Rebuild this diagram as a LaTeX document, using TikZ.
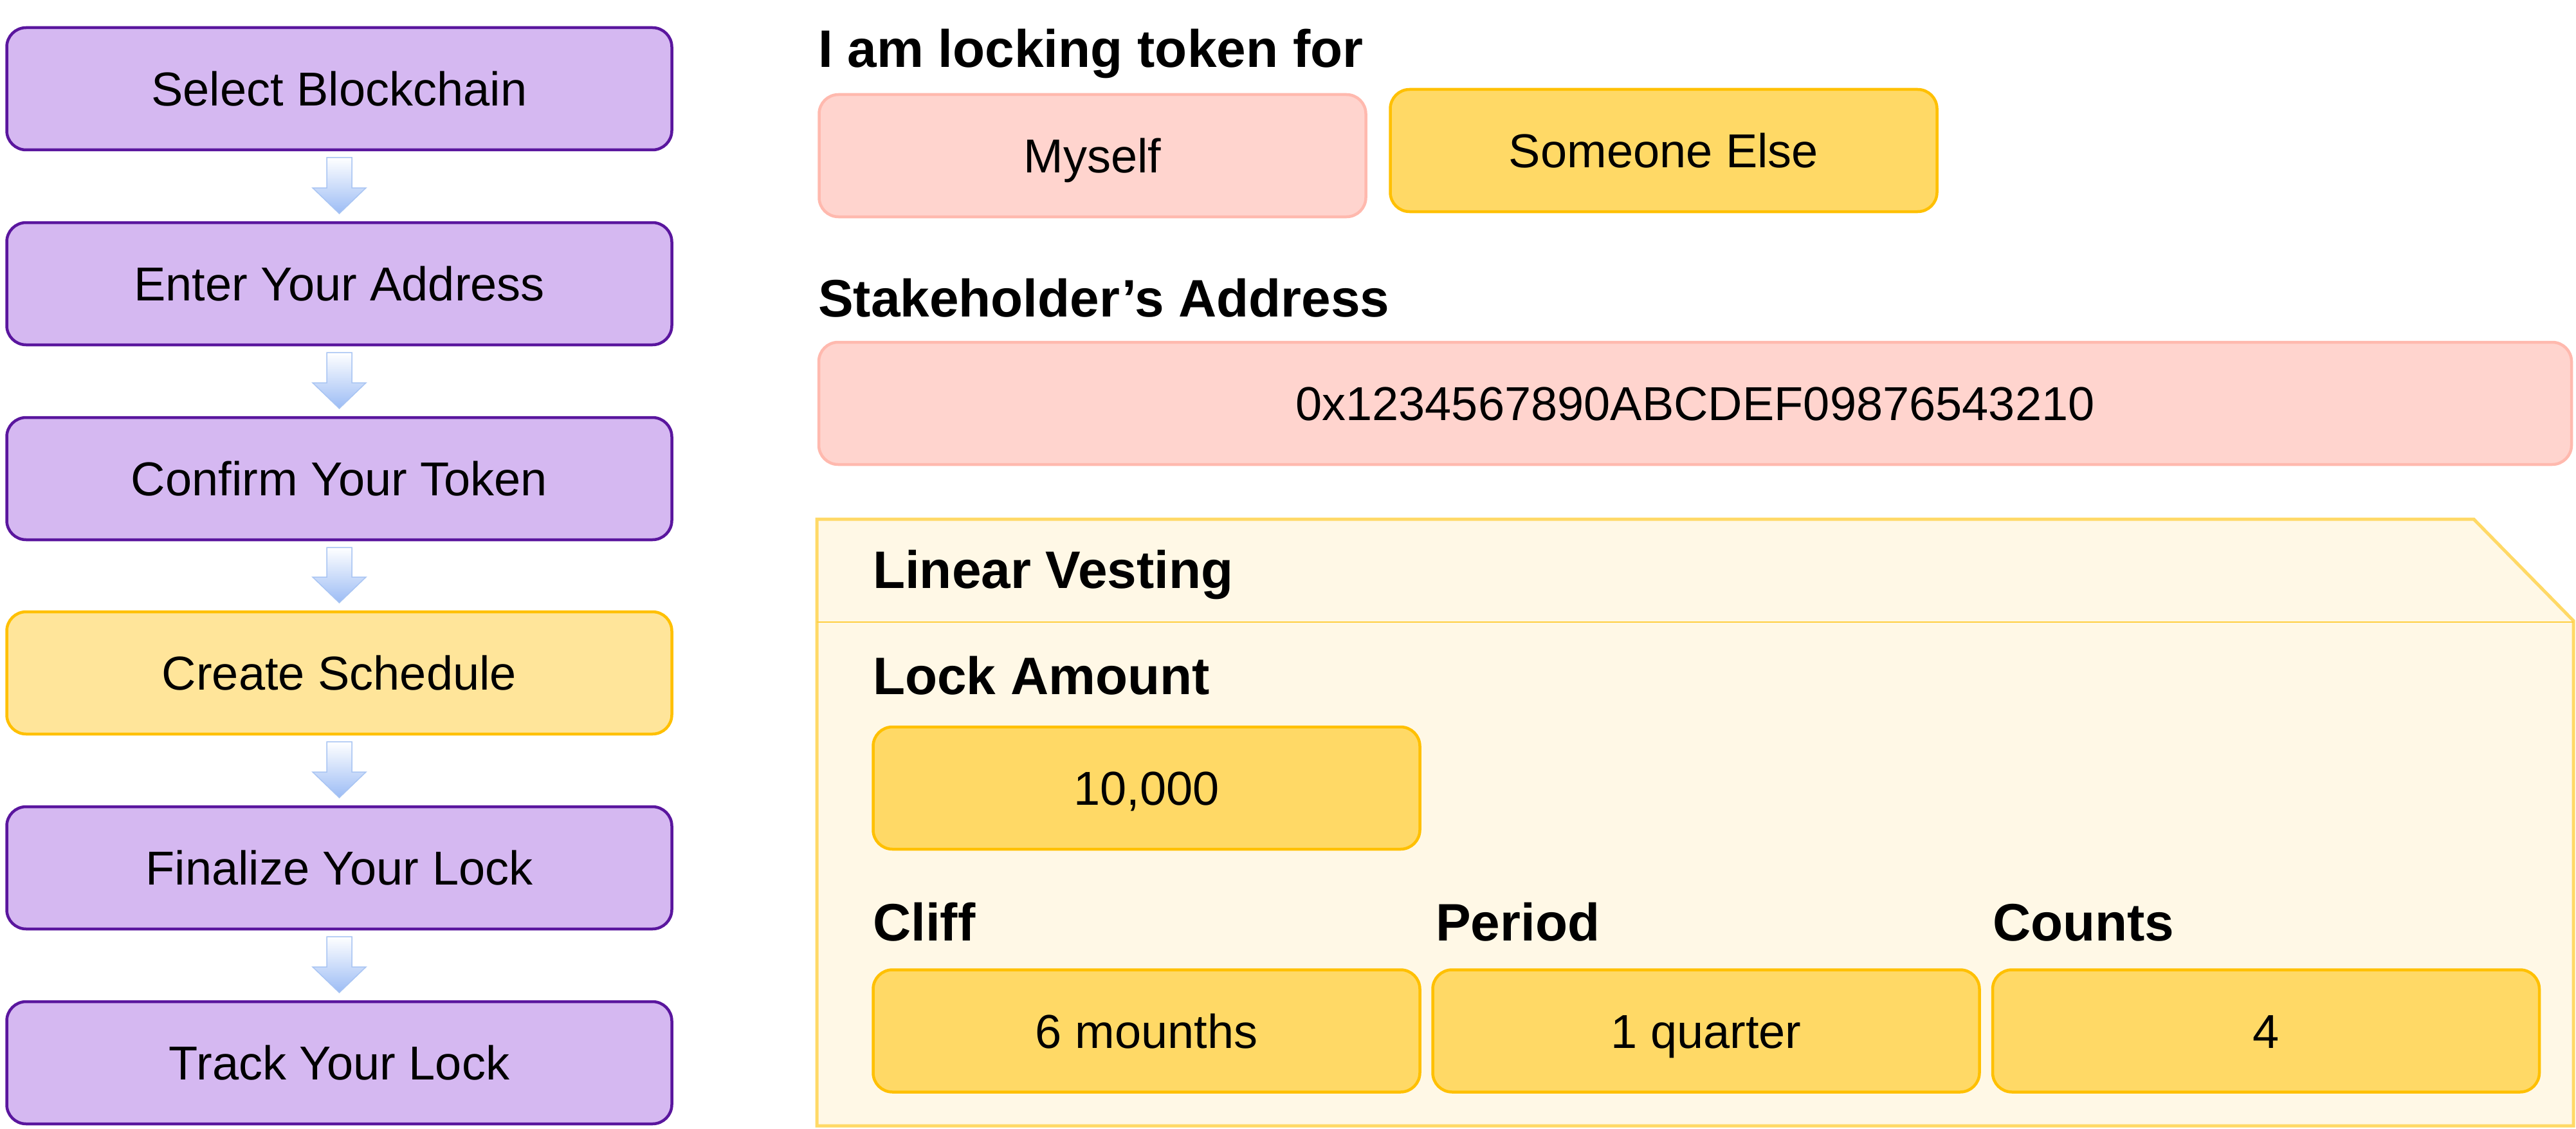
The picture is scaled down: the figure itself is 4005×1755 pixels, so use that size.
\documentclass[tikz,border=0pt]{standalone}
\usepackage{fontspec}
\setmainfont{Liberation Sans}
\usetikzlibrary{calc}
\definecolor{purpfill}{HTML}{D5B8F1}
\definecolor{purpline}{HTML}{5A169E}
\definecolor{goldfill}{HTML}{FFE59A}
\definecolor{goldline}{HTML}{FFC000}
\definecolor{pinkfill}{HTML}{FFD4CE}
\definecolor{pinkline}{HTML}{FFB9AE}
\definecolor{yelfill}{HTML}{FFD966}
\definecolor{panelfill}{HTML}{FFF8E6}
\definecolor{panelline}{HTML}{FFD966}
\definecolor{divline}{HTML}{FFCF40}
\definecolor{arrowblue}{HTML}{9CBCF5}
\definecolor{arrowline}{HTML}{A9C5F3}
\newcommand\flowarrow[2]{%
  \path[top color=white, bottom color=arrowblue, draw=arrowline, line width=1.5pt, line join=miter]
    ($(#1.south)+(-19.5,12)$) -- ($(#1.south)+(19.5,12)$)
    -- ($(#2.north)+(19.5,-54)$) -- ($(#2.north)+(41.5,-54)$)
    -- ($(#2.north)+(0,-14)$)
    -- ($(#2.north)+(-41.5,-54)$) -- ($(#2.north)+(-19.5,-54)$) -- cycle;}
\tikzset{
  box/.style={rounded corners=30pt, line width=4.5pt, minimum width=850pt,
    minimum height=190pt, inner sep=0pt, outer sep=0pt, text height=53pt, text depth=0pt,
    font=\fontsize{74}{80}\selectfont},
  stepbox/.style={box, fill=purpfill, draw=purpline, minimum width=1034pt},
  curbox/.style={box, fill=goldfill, draw=goldline, minimum width=1034pt},
  pinkbox/.style={box, fill=pinkfill, draw=pinkline},
  yelbox/.style={box, fill=yelfill, draw=goldline},
  heading/.style={anchor=base west, inner sep=0pt, outer sep=0pt,
    font=\fontsize{82}{90}\selectfont\bfseries},
}
\begin{document}
\begin{tikzpicture}[x=1pt, y=-1pt]
\useasboundingbox (0,0) rectangle (4005,1755);
% left flow
\node[stepbox] (s1) at (527.5,138) {Select Blockchain};
\node[stepbox] (s2) at (527.5,441) {Enter Your Address};
\node[stepbox] (s3) at (527.5,744) {Confirm Your Token};
\node[curbox]  (s4) at (527.5,1046) {Create Schedule};
\node[stepbox] (s5) at (527.5,1349) {Finalize Your Lock};
\node[stepbox] (s6) at (527.5,1652) {Track Your Lock};
\flowarrow{s1}{s2}
\flowarrow{s2}{s3}
\flowarrow{s3}{s4}
\flowarrow{s4}{s5}
\flowarrow{s5}{s6}
% right form
\node[heading] (h1) at (1272,105) {I am locking token for};
\node[pinkbox] (myself) at (1698.5,242) {Myself};
\node[yelbox] (else) at (2586.5,234) {Someone Else};
\node[heading] (h2) at (1272,492) {Stakeholder’s Address};
\node[pinkbox, minimum width=2725pt] (addr) at (2635.5,627) {0x1234567890ABCDEF09876543210};
% vesting panel
\path[fill=panelfill, draw=panelline, line width=5pt, line join=miter]
  (1270,807) -- (3846,807) -- (4001,965) -- (4001,1750) -- (1270,1750) -- cycle;
\draw[divline, line width=2pt] (1270,967) -- (4001,967);
\node[heading] (h3) at (1357,914) {Linear Vesting};
\node[heading] (h4) at (1357,1079) {Lock Amount};
\node[yelbox] (amount) at (1782.5,1225) {10,000};
\node[heading] (h5) at (1357,1462) {Cliff};
\node[heading] (h6) at (2232,1462) {Period};
\node[heading] (h7) at (3098,1462) {Counts};
\node[yelbox] (cliff) at (1782.5,1602.5) {6 mounths};
\node[yelbox] (period) at (2652.5,1602.5) {1 quarter};
\node[yelbox] (counts) at (3523,1602.5) {4};
\end{tikzpicture}
\end{document}
